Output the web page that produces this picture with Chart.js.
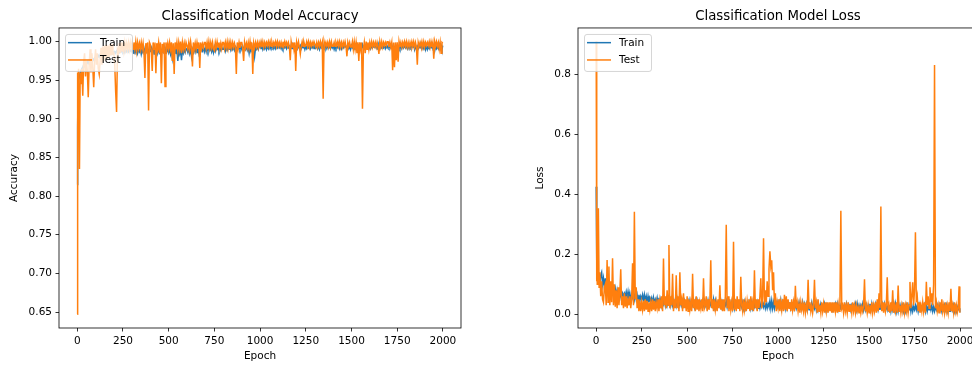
<!DOCTYPE html>
<html lang="en">
<head>
  <meta charset="UTF-8">
  <title>Classification Model Accuracy and Loss</title>
  <script src="https://cdn.jsdelivr.net/npm/chart.js"></script>
  <style>
    body {
      margin: 0;
      background: #fff;
      width: 972px;
      height: 365px;
      overflow: hidden;
      position: relative;
    }
    canvas { position: absolute; top: 0; }
    #accChart { left: 0; }
    #lossChart { left: 520px; }
  </style>
</head>
<body>
  <canvas id="accChart" width="520" height="365"></canvas>
  <canvas id="lossChart" width="517" height="365"></canvas>

  <script>
    // Epochs (denser at the very start)
    const epochs = [0, 2, 4, 6, 8, 12, 16, 20, 25,
      30, 35, 40, 45, 50, 55, 60, 65, 70, 75, 80, 85, 90, 95,
      100, 105, 110, 115, 120, 125, 130, 135, 140, 145, 150, 155, 160, 165, 170, 175, 180, 185, 190, 195,
      200, 205, 210, 215, 220, 225, 230, 235, 240, 245, 250, 255, 260, 265, 270, 275, 280, 285, 290, 295,
      300, 305, 310, 315, 320, 325, 330, 335, 340, 345, 350, 355, 360, 365, 370, 375, 380, 385, 390, 395,
      400, 405, 410, 415, 420, 425, 430, 435, 440, 445, 450, 455, 460, 465, 470, 475, 480, 485, 490, 495,
      500, 505, 510, 515, 520, 525, 530, 535, 540, 545, 550, 555, 560, 565, 570, 575, 580, 585, 590, 595,
      600, 605, 610, 615, 620, 625, 630, 635, 640, 645, 650, 655, 660, 665, 670, 675, 680, 685, 690, 695,
      700, 705, 710, 715, 720, 725, 730, 735, 740, 745, 750, 755, 760, 765, 770, 775, 780, 785, 790, 795,
      800, 805, 810, 815, 820, 825, 830, 835, 840, 845, 850, 855, 860, 865, 870, 875, 880, 885, 890, 895,
      900, 905, 910, 915, 920, 925, 930, 935, 940, 945, 950, 955, 960, 965, 970, 975, 980, 985, 990, 995,
      1000, 1005, 1010, 1015, 1020, 1025, 1030, 1035, 1040, 1045, 1050, 1055, 1060, 1065, 1070, 1075, 1080, 1085, 1090, 1095,
      1100, 1105, 1110, 1115, 1120, 1125, 1130, 1135, 1140, 1145, 1150, 1155, 1160, 1165, 1170, 1175, 1180, 1185, 1190, 1195,
      1200, 1205, 1210, 1215, 1220, 1225, 1230, 1235, 1240, 1245, 1250, 1255, 1260, 1265, 1270, 1275, 1280, 1285, 1290, 1295,
      1300, 1305, 1310, 1315, 1320, 1325, 1330, 1335, 1340, 1345, 1350, 1355, 1360, 1365, 1370, 1375, 1380, 1385, 1390, 1395,
      1400, 1405, 1410, 1415, 1420, 1425, 1430, 1435, 1440, 1445, 1450, 1455, 1460, 1465, 1470, 1475, 1480, 1485, 1490, 1495,
      1500, 1505, 1510, 1515, 1520, 1525, 1530, 1535, 1540, 1545, 1550, 1555, 1560, 1565, 1570, 1575, 1580, 1585, 1590, 1595,
      1600, 1605, 1610, 1615, 1620, 1625, 1630, 1635, 1640, 1645, 1650, 1655, 1660, 1665, 1670, 1675, 1680, 1685, 1690, 1695,
      1700, 1705, 1710, 1715, 1720, 1725, 1730, 1735, 1740, 1745, 1750, 1755, 1760, 1765, 1770, 1775, 1780, 1785, 1790, 1795,
      1800, 1805, 1810, 1815, 1820, 1825, 1830, 1835, 1840, 1845, 1850, 1855, 1860, 1865, 1870, 1875, 1880, 1885, 1890, 1895,
      1900, 1905, 1910, 1915, 1920, 1925, 1930, 1935, 1940, 1945, 1950, 1955, 1960, 1965, 1970, 1975, 1980, 1985, 1990, 1995,
      1999];

    const accTrain = [0.815, 0.89, 0.93, 0.945, 0.95, 0.955, 0.96, 0.962, 0.965,
      0.967, 0.97, 0.968, 0.972, 0.97, 0.974, 0.972, 0.975, 0.973, 0.977, 0.975, 0.978, 0.976, 0.979,
      0.978, 0.981, 0.979, 0.982, 0.98, 0.983, 0.981, 0.984, 0.982, 0.984, 0.982, 0.985, 0.983, 0.985, 0.983, 0.986, 0.984, 0.986, 0.984, 0.987,
      0.985, 0.987, 0.985, 0.988, 0.986, 0.988, 0.986, 0.989, 0.987, 0.989, 0.987, 0.99, 0.986, 0.989, 0.987, 0.99, 0.987, 0.99, 0.988, 0.99,
      0.987, 0.991, 0.984, 0.99, 0.986, 0.991, 0.985, 0.99, 0.987, 0.991, 0.984, 0.99, 0.986, 0.991, 0.985, 0.99, 0.987, 0.992, 0.985, 0.99,
      0.988, 0.992, 0.986, 0.991, 0.984, 0.99, 0.987, 0.992, 0.985, 0.99, 0.986, 0.991, 0.984, 0.99, 0.987, 0.992, 0.985, 0.99, 0.987, 0.991,
      0.986, 0.991, 0.984, 0.99, 0.979, 0.99, 0.985, 0.991, 0.984, 0.99, 0.975, 0.989, 0.984, 0.99, 0.976, 0.989, 0.985, 0.99, 0.986, 0.991,
      0.99, 0.986, 0.992, 0.985, 0.991, 0.981, 0.99, 0.986, 0.992, 0.987, 0.993, 0.986, 0.991, 0.985, 0.992, 0.987, 0.991, 0.988, 0.992, 0.987,
      0.992, 0.987, 0.993, 0.988, 0.993, 0.989, 0.992, 0.987, 0.992, 0.986, 0.993, 0.988, 0.993, 0.99, 0.992, 0.988, 0.993, 0.989, 0.993, 0.99,
      0.99, 0.994, 0.988, 0.993, 0.989, 0.993, 0.99, 0.994, 0.989, 0.993, 0.99, 0.994, 0.989, 0.993, 0.99, 0.993, 0.991, 0.994, 0.99, 0.994,
      0.99, 0.994, 0.989, 0.993, 0.99, 0.994, 0.989, 0.993, 0.985, 0.993, 0.99, 0.994, 0.989, 0.993, 0.981, 0.992, 0.99, 0.993, 0.99, 0.994,
      0.994, 0.991, 0.995, 0.99, 0.994, 0.991, 0.995, 0.99, 0.994, 0.991, 0.995, 0.991, 0.994, 0.992, 0.995, 0.991, 0.994, 0.991, 0.995, 0.992,
      0.995, 0.992, 0.994, 0.991, 0.995, 0.991, 0.994, 0.992, 0.995, 0.991, 0.994, 0.992, 0.994, 0.99, 0.995, 0.991, 0.995, 0.992, 0.994, 0.991,
      0.995, 0.991, 0.994, 0.992, 0.995, 0.991, 0.994, 0.992, 0.995, 0.99, 0.994, 0.991, 0.994, 0.992, 0.995, 0.991, 0.995, 0.992, 0.994, 0.991,
      0.994, 0.992, 0.995, 0.991, 0.995, 0.99, 0.994, 0.992, 0.994, 0.991, 0.996, 0.992, 0.994, 0.991, 0.995, 0.992, 0.994, 0.991, 0.995, 0.992,
      0.995, 0.99, 0.994, 0.991, 0.994, 0.992, 0.995, 0.991, 0.996, 0.991, 0.995, 0.992, 0.995, 0.993, 0.994, 0.992, 0.994, 0.991, 0.995, 0.99,
      0.995, 0.992, 0.994, 0.991, 0.994, 0.99, 0.995, 0.991, 0.995, 0.993, 0.996, 0.992, 0.996, 0.991, 0.994, 0.992, 0.995, 0.992, 0.994, 0.991,
      0.995, 0.991, 0.994, 0.992, 0.994, 0.993, 0.995, 0.992, 0.996, 0.99, 0.995, 0.991, 0.995, 0.992, 0.994, 0.992, 0.995, 0.991, 0.994, 0.992,
      0.995, 0.992, 0.994, 0.992, 0.996, 0.991, 0.994, 0.99, 0.994, 0.992, 0.995, 0.993, 0.995, 0.991, 0.994, 0.991, 0.996, 0.992, 0.995, 0.992,
      0.994, 0.991, 0.995, 0.991, 0.995, 0.992, 0.994, 0.993, 0.996, 0.99, 0.995, 0.99, 0.994, 0.991, 0.994, 0.992, 0.995, 0.991, 0.994, 0.991,
      0.996, 0.99, 0.995, 0.99, 0.994, 0.991, 0.994, 0.992, 0.995, 0.991, 0.995, 0.988, 0.994, 0.991, 0.994, 0.991, 0.996, 0.991, 0.995, 0.99,
      0.995];

    const accTest = [0.647, 0.96, 0.89, 0.965, 0.95, 0.835, 0.96, 0.945, 0.965,
      0.93, 0.975, 0.985, 0.955, 0.975, 0.962, 0.928, 0.97, 0.99, 0.96, 0.985, 0.965, 0.941, 0.975,
      0.99, 0.97, 0.985, 0.965, 0.958, 0.975, 0.992, 0.97, 0.994, 0.975, 0.995, 0.978, 0.996, 0.978, 0.995, 0.98, 0.997, 0.982, 0.997, 0.984,
      0.985, 0.97, 0.935, 0.909, 0.99, 0.986, 0.998, 0.985, 0.999, 0.988, 0.999, 0.988, 0.999, 0.99, 0.998, 0.99, 0.999, 0.99, 0.999, 0.991,
      0.999, 0.99, 0.999, 0.99, 1.0, 0.988, 0.999, 0.991, 0.998, 0.99, 0.999, 0.99, 0.998, 0.986, 0.953, 0.998, 0.99, 0.999, 0.911, 0.999,
      0.996, 0.988, 0.962, 0.999, 0.99, 0.999, 0.959, 0.998, 0.99, 0.999, 0.985, 0.999, 0.946, 0.997, 0.99, 0.999, 0.942, 0.999, 0.99, 0.998,
      0.99, 0.999, 0.99, 0.999, 0.975, 0.998, 0.958, 0.999, 0.99, 0.999, 0.988, 0.999, 0.99, 1.0, 0.985, 0.999, 0.99, 0.998, 0.99, 0.999,
      0.999, 0.99, 0.999, 0.99, 1.0, 0.991, 0.968, 0.999, 0.99, 0.998, 0.99, 0.999, 0.991, 0.999, 0.966, 0.999, 0.991, 0.997, 0.992, 0.999,
      0.999, 0.991, 0.999, 0.99, 1.0, 0.991, 0.999, 0.992, 0.999, 0.99, 0.988, 0.999, 0.992, 1.0, 0.993, 0.999, 0.991, 0.998, 0.991, 0.999,
      0.999, 0.991, 0.999, 0.992, 1.0, 0.991, 0.999, 0.99, 0.999, 0.992, 0.999, 0.993, 0.998, 0.992, 0.958, 0.999, 0.991, 0.999, 0.992, 0.999,
      0.999, 0.991, 0.975, 0.999, 0.992, 0.998, 0.992, 0.999, 0.991, 1.0, 0.99, 0.999, 0.958, 0.998, 0.992, 0.999, 0.993, 0.999, 0.992, 0.999,
      0.994, 1.0, 0.993, 1.0, 0.993, 0.999, 0.994, 0.999, 0.995, 1.0, 0.994, 1.0, 0.994, 0.999, 0.994, 0.999, 0.995, 1.0, 0.994, 1.0,
      0.994, 0.999, 0.994, 0.999, 0.993, 1.0, 0.994, 1.0, 0.995, 0.999, 0.994, 0.999, 0.994, 0.976, 1.0, 0.993, 0.999, 0.99, 0.999, 0.962,
      0.999, 0.993, 1.0, 0.993, 0.984, 0.994, 1.0, 0.994, 0.999, 0.994, 0.995, 1.0, 0.994, 1.0, 0.993, 0.999, 0.994, 0.999, 0.995, 1.0,
      1.0, 0.993, 0.999, 0.993, 0.999, 0.994, 1.0, 0.994, 0.999, 0.926, 1.0, 0.994, 0.999, 0.994, 0.999, 0.993, 1.0, 0.993, 1.0, 0.994,
      0.994, 0.999, 0.994, 0.999, 0.995, 1.0, 0.994, 1.0, 0.993, 0.999, 0.993, 0.999, 0.994, 1.0, 0.994, 0.981, 0.999, 0.994, 0.999, 0.993,
      0.993, 1.0, 0.99, 1.0, 0.99, 0.999, 0.985, 0.999, 0.975, 0.999, 0.99, 0.999, 0.913, 0.99, 0.999, 0.985, 1.0, 0.99, 0.999, 0.99,
      0.999, 0.993, 1.0, 0.993, 0.999, 0.994, 0.999, 0.993, 0.999, 0.993, 0.984, 1.0, 0.993, 1.0, 0.993, 0.999, 0.995, 0.999, 0.995, 1.0,
      1.0, 0.993, 0.999, 0.993, 0.999, 0.963, 0.999, 0.967, 0.999, 0.976, 0.999, 0.974, 1.0, 0.993, 0.999, 0.993, 0.999, 0.994, 1.0, 0.994,
      1.0, 0.993, 0.999, 0.993, 0.999, 0.994, 1.0, 0.994, 1.0, 0.993, 0.999, 0.993, 0.97, 0.999, 0.994, 0.999, 0.994, 1.0, 0.993, 1.0,
      0.993, 0.999, 0.995, 0.999, 0.995, 1.0, 0.993, 1.0, 0.993, 0.999, 0.978, 1.0, 0.994, 1.0, 0.994, 0.999, 0.99, 0.999, 0.985, 0.999,
      0.998];

    const lossTrain = [0.425, 0.25, 0.18, 0.15, 0.13, 0.12, 0.11, 0.1, 0.13,
      0.14, 0.1, 0.12, 0.09, 0.12, 0.085, 0.1, 0.08, 0.1, 0.075, 0.09, 0.07, 0.09, 0.07,
      0.065, 0.085, 0.06, 0.08, 0.06, 0.075, 0.055, 0.075, 0.055, 0.07, 0.06, 0.07, 0.06, 0.075, 0.055, 0.075, 0.05, 0.07, 0.05, 0.065,
      0.055, 0.07, 0.05, 0.07, 0.05, 0.065, 0.045, 0.065, 0.045, 0.06, 0.05, 0.065, 0.045, 0.065, 0.045, 0.06, 0.04, 0.06, 0.04, 0.055,
      0.045, 0.055, 0.035, 0.055, 0.035, 0.05, 0.04, 0.055, 0.035, 0.055, 0.035, 0.05, 0.03, 0.05, 0.035, 0.05, 0.03, 0.05, 0.03, 0.045,
      0.035, 0.05, 0.03, 0.05, 0.03, 0.045, 0.035, 0.05, 0.03, 0.05, 0.03, 0.045, 0.03, 0.045, 0.03, 0.045, 0.03, 0.045, 0.03, 0.04,
      0.035, 0.045, 0.025, 0.045, 0.025, 0.04, 0.03, 0.045, 0.025, 0.045, 0.03, 0.045, 0.025, 0.04, 0.025, 0.04, 0.03, 0.045, 0.03, 0.045,
      0.03, 0.045, 0.025, 0.045, 0.025, 0.04, 0.03, 0.045, 0.03, 0.05, 0.025, 0.045, 0.025, 0.04, 0.03, 0.045, 0.03, 0.045, 0.025, 0.04,
      0.025, 0.04, 0.03, 0.045, 0.025, 0.045, 0.025, 0.04, 0.025, 0.04, 0.02, 0.04, 0.02, 0.04, 0.025, 0.04, 0.025, 0.035, 0.025, 0.04,
      0.025, 0.04, 0.02, 0.04, 0.02, 0.035, 0.025, 0.04, 0.025, 0.04, 0.02, 0.04, 0.02, 0.035, 0.025, 0.04, 0.025, 0.04, 0.02, 0.035,
      0.02, 0.035, 0.025, 0.04, 0.025, 0.04, 0.02, 0.035, 0.02, 0.035, 0.025, 0.045, 0.02, 0.045, 0.02, 0.04, 0.02, 0.04, 0.025, 0.04,
      0.025, 0.04, 0.02, 0.045, 0.02, 0.04, 0.025, 0.045, 0.02, 0.04, 0.02, 0.035, 0.025, 0.04, 0.02, 0.035, 0.025, 0.04, 0.02, 0.035,
      0.02, 0.035, 0.025, 0.04, 0.02, 0.035, 0.02, 0.04, 0.02, 0.035, 0.02, 0.035, 0.015, 0.035, 0.015, 0.03, 0.025, 0.04, 0.02, 0.035,
      0.02, 0.035, 0.015, 0.035, 0.015, 0.03, 0.02, 0.035, 0.02, 0.03, 0.02, 0.035, 0.015, 0.03, 0.015, 0.03, 0.02, 0.035, 0.02, 0.03,
      0.015, 0.03, 0.02, 0.035, 0.02, 0.035, 0.015, 0.03, 0.015, 0.03, 0.02, 0.03, 0.015, 0.03, 0.02, 0.035, 0.015, 0.03, 0.015, 0.035,
      0.015, 0.03, 0.02, 0.03, 0.02, 0.035, 0.015, 0.035, 0.015, 0.03, 0.015, 0.03, 0.02, 0.035, 0.015, 0.035, 0.015, 0.03, 0.015, 0.03,
      0.02, 0.035, 0.015, 0.035, 0.015, 0.03, 0.02, 0.035, 0.02, 0.035, 0.015, 0.03, 0.015, 0.03, 0.02, 0.035, 0.02, 0.035, 0.015, 0.03,
      0.015, 0.03, 0.01, 0.03, 0.01, 0.03, 0.015, 0.035, 0.015, 0.035, 0.01, 0.03, 0.01, 0.03, 0.015, 0.03, 0.015, 0.03, 0.01, 0.025,
      0.01, 0.03, 0.015, 0.03, 0.015, 0.035, 0.01, 0.03, 0.01, 0.025, 0.015, 0.03, 0.015, 0.03, 0.01, 0.03, 0.01, 0.025, 0.015, 0.03,
      0.015, 0.03, 0.01, 0.03, 0.01, 0.025, 0.015, 0.03, 0.015, 0.03, 0.01, 0.025, 0.01, 0.025, 0.015, 0.03, 0.015, 0.03, 0.01, 0.025,
      0.01, 0.025, 0.015, 0.03, 0.015, 0.03, 0.01, 0.025, 0.01, 0.025, 0.015, 0.03, 0.015, 0.03, 0.01, 0.025, 0.01, 0.025, 0.015, 0.02,
      0.015];

    const lossTest = [0.909, 0.11, 0.2, 0.1, 0.12, 0.353, 0.09, 0.14, 0.06,
      0.11, 0.05, 0.04, 0.09, 0.1, 0.03, 0.181, 0.04, 0.159, 0.03, 0.11, 0.04, 0.187, 0.03,
      0.1, 0.025, 0.08, 0.02, 0.09, 0.03, 0.07, 0.15, 0.03, 0.06, 0.02, 0.07, 0.025, 0.06, 0.02, 0.05, 0.03, 0.06, 0.02, 0.05,
      0.17, 0.03, 0.342, 0.05, 0.09, 0.02, 0.05, 0.01, 0.045, 0.01, 0.04, 0.015, 0.045, 0.01, 0.05, 0.015, 0.045, 0.01, 0.04, 0.015,
      0.04, 0.01, 0.05, 0.015, 0.045, 0.01, 0.04, 0.02, 0.05, 0.01, 0.045, 0.02, 0.06, 0.01, 0.186, 0.03, 0.06, 0.02, 0.08, 0.03,
      0.231, 0.02, 0.06, 0.03, 0.135, 0.01, 0.05, 0.02, 0.13, 0.02, 0.06, 0.01, 0.14, 0.03, 0.05, 0.01, 0.07, 0.02, 0.05, 0.01,
      0.06, 0.01, 0.05, 0.015, 0.04, 0.01, 0.135, 0.02, 0.05, 0.01, 0.06, 0.015, 0.05, 0.01, 0.04, 0.02, 0.05, 0.01, 0.12, 0.02,
      0.03, 0.06, 0.01, 0.05, 0.015, 0.04, 0.18, 0.02, 0.05, 0.01, 0.05, 0.015, 0.04, 0.01, 0.05, 0.02, 0.097, 0.015, 0.05, 0.01,
      0.05, 0.01, 0.06, 0.298, 0.02, 0.06, 0.01, 0.05, 0.015, 0.04, 0.01, 0.242, 0.015, 0.05, 0.01, 0.06, 0.02, 0.05, 0.01, 0.125,
      0.03, 0.01, 0.05, 0.015, 0.04, 0.01, 0.045, 0.02, 0.05, 0.01, 0.06, 0.015, 0.04, 0.01, 0.147, 0.02, 0.05, 0.01, 0.05, 0.02,
      0.06, 0.12, 0.02, 0.06, 0.253, 0.03, 0.08, 0.04, 0.11, 0.06, 0.15, 0.21, 0.16, 0.18, 0.08, 0.14, 0.03, 0.07, 0.01, 0.04,
      0.02, 0.05, 0.01, 0.04, 0.015, 0.05, 0.01, 0.065, 0.015, 0.06, 0.01, 0.05, 0.02, 0.04, 0.01, 0.05, 0.015, 0.04, 0.01, 0.095,
      0.02, 0.04, 0.01, 0.035, 0.005, 0.04, 0.015, 0.035, 0.01, 0.04, 0.005, 0.03, 0.015, 0.115, 0.02, 0.04, 0.01, 0.03, 0.005, 0.03,
      0.115, 0.02, 0.04, 0.005, 0.05, 0.01, 0.03, 0.005, 0.04, 0.01, 0.035, 0.005, 0.04, 0.01, 0.04, 0.005, 0.04, 0.01, 0.04, 0.005,
      0.04, 0.005, 0.04, 0.01, 0.04, 0.005, 0.035, 0.01, 0.04, 0.345, 0.02, 0.03, 0.005, 0.04, 0.01, 0.03, 0.005, 0.04, 0.01, 0.03,
      0.03, 0.005, 0.04, 0.01, 0.03, 0.005, 0.03, 0.01, 0.025, 0.005, 0.03, 0.005, 0.025, 0.01, 0.03, 0.117, 0.01, 0.03, 0.005, 0.03,
      0.005, 0.03, 0.01, 0.04, 0.005, 0.03, 0.01, 0.04, 0.005, 0.05, 0.01, 0.07, 0.02, 0.359, 0.01, 0.04, 0.005, 0.04, 0.01, 0.03,
      0.123, 0.01, 0.03, 0.005, 0.04, 0.01, 0.08, 0.005, 0.03, 0.01, 0.04, 0.005, 0.096, 0.01, 0.03, 0.005, 0.03, 0.01, 0.04, 0.005,
      0.03, 0.01, 0.04, 0.005, 0.03, 0.108, 0.02, 0.06, 0.107, 0.03, 0.08, 0.273, 0.04, 0.06, 0.01, 0.04, 0.005, 0.03, 0.01, 0.04,
      0.01, 0.04, 0.005, 0.108, 0.03, 0.06, 0.02, 0.09, 0.04, 0.07, 0.03, 0.1, 0.831, 0.02, 0.04, 0.01, 0.03, 0.005, 0.04, 0.01,
      0.05, 0.01, 0.03, 0.005, 0.04, 0.01, 0.03, 0.005, 0.04, 0.01, 0.085, 0.01, 0.03, 0.005, 0.04, 0.01, 0.03, 0.005, 0.02, 0.093,
      0.005];

    // Tick labels
    const epochTicks = [0, 250, 500, 750, 1000, 1250, 1500, 1750, 2000];
    const accTicks = [0.65, 0.70, 0.75, 0.80, 0.85, 0.90, 0.95, 1.00];
    const lossTicks = [0.0, 0.2, 0.4, 0.6, 0.8];

    const BLUE = '#1f77b4';
    const ORANGE = '#ff7f0e';

    Chart.defaults.font.family = "'DejaVu Sans', sans-serif";
    Chart.defaults.font.size = 10.5;
    Chart.defaults.color = '#000';

    // matplotlib-like box around the axes and a legend in the upper left
    const framePlugin = {
      id: 'frame',
      afterDraw(chart) {
        const { ctx, chartArea: a } = chart;
        ctx.save();

        const lx = a.left + 6, ly = a.top + 6;
        ctx.beginPath();
        ctx.roundRect(lx + 0.5, ly + 0.5, 67, 37, 2.5);
        ctx.fillStyle = 'rgba(255,255,255,0.8)';
        ctx.fill();
        ctx.strokeStyle = 'rgba(204,204,204,0.8)';
        ctx.lineWidth = 1;
        ctx.stroke();

        const rows = [a.top + 14.7, a.top + 32];
        ctx.font = "10.5px 'DejaVu Sans'";
        ctx.textBaseline = 'middle';
        chart.data.datasets.forEach((ds, i) => {
          ctx.beginPath();
          ctx.moveTo(a.left + 9, rows[i]);
          ctx.lineTo(a.left + 33, rows[i]);
          ctx.strokeStyle = ds.borderColor;
          ctx.lineWidth = 1.5;
          ctx.stroke();
          ctx.fillStyle = '#000';
          ctx.fillText(ds.label, a.left + 41, rows[i] + 0.5);
        });

        ctx.strokeStyle = '#000';
        ctx.lineWidth = 0.8;
        ctx.strokeRect(a.left, a.top, a.right - a.left, a.bottom - a.top);
        ctx.restore();
      }
    };

    function points(values) {
      if (values.length !== epochs.length) console.error('length mismatch', values.length, epochs.length);
      return epochs.map((e, i) => ({ x: e, y: values[i] }));
    }

    function makeChart(id, title, yLabel, train, test, yMin, yMax, yTicks, digits, yWidth, yTitlePad) {
      const tickGrid = { drawOnChartArea: false, drawTicks: true, tickLength: 3.5, color: '#000', lineWidth: 0.8 };
      return new Chart(document.getElementById(id), {
        type: 'line',
        data: {
          datasets: [
            { label: 'Train', data: points(train), borderColor: BLUE, borderWidth: 1.5, pointRadius: 0, tension: 0, order: 2 },
            { label: 'Test', data: points(test), borderColor: ORANGE, borderWidth: 1.5, pointRadius: 0, tension: 0, order: 1 }
          ]
        },
        options: {
          responsive: false,
          animation: false,
          devicePixelRatio: 1,
          events: [],
          layout: { padding: { left: 0, right: 59, top: 0, bottom: 0 } },
          plugins: {
            legend: { display: false },
            tooltip: { enabled: false },
            title: {
              display: true,
              text: title,
              fullSize: false,
              color: '#000',
              font: { size: 13.3, weight: 'normal', lineHeight: 1.2 },
              padding: { top: 9, bottom: 3 }
            }
          },
          scales: {
            x: {
              type: 'linear',
              min: -99.95,
              max: 2098.95,
              grid: tickGrid,
              border: { display: false },
              afterBuildTicks: s => { s.ticks = epochTicks.map(v => ({ value: v })); },
              afterFit: s => { s.height = 37; },
              ticks: { padding: 3.5, maxRotation: 0, callback: v => String(v) },
              title: { display: true, text: 'Epoch', padding: { top: 0, bottom: 2.7 } }
            },
            y: {
              min: yMin,
              max: yMax,
              grid: tickGrid,
              border: { display: false },
              afterBuildTicks: s => { s.ticks = yTicks.map(v => ({ value: v })); },
              afterFit: s => { s.width = yWidth; },
              ticks: { padding: 3.5, callback: v => v.toFixed(digits) },
              title: { display: true, text: yLabel, padding: { top: yTitlePad, bottom: 0 } }
            }
          }
        },
        plugins: [framePlugin]
      });
    }

    makeChart('accChart', 'Classification Model Accuracy', 'Accuracy',
      accTrain, accTest, 0.6293, 1.0177, accTicks, 2, 59, 8.2);
    makeChart('lossChart', 'Classification Model Loss', 'Loss',
      lossTrain, lossTest, -0.0457, 0.9543, lossTicks, 1, 58, 14.2);
  </script>
</body>
</html>
